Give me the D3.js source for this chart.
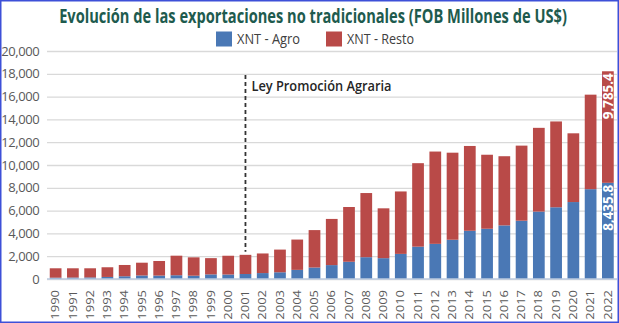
<!DOCTYPE html>
<html lang="es">
<head>
<meta charset="utf-8">
<title>Evolución de las exportaciones no tradicionales</title>
<script src="https://cdn.jsdelivr.net/npm/d3@7"></script>
<style>
  body { margin: 0; background: #fff; }
  svg { display: block; font-family: "Open Sans", "Noto Sans", sans-serif; }
</style>
</head>
<body>
<script>
// data (FOB, millones de US$)
const years = ["1990","1991","1992","1993","1994","1995","1996","1997","1998","1999",
  "2000","2001","2002","2003","2004","2005","2006","2007","2008","2009","2010",
  "2011","2012","2013","2014","2015","2016","2017","2018","2019","2020","2021","2022"];
const agro = [118, 130, 140, 180, 240, 310, 300, 330, 290, 405,
  394, 437, 520, 590, 801, 1008, 1220, 1512, 1913, 1828, 2203,
  2836, 3083, 3444, 4231, 4409, 4702, 5113, 5913, 6292, 6750, 7880, 8435.8];
const resto = [822, 810, 800, 850, 990, 1120, 1280, 1715, 1610, 1425,
  1646, 1683, 1720, 1990, 2659, 3282, 4050, 4803, 5627, 4372, 5477,
  7324, 8097, 7636, 7439, 6491, 6068, 6587, 7347, 7528, 6030, 8290, 9785.4];
const yTicks = [0, 2000, 4000, 6000, 8000, 10000, 12000, 14000, 16000, 18000, 20000];
const seriesNames = ["XNT - Agro", "XNT - Resto"];
const colors = ["#4a78b5", "#b94a48"];
const labelYear = "2022";
const leyYear = "2001";
const leyTop = 17900;
const leyText = "Ley Promoción Agraria";
const title = "Evolución de las exportaciones no tradicionales (FOB Millones de US$)";

var w = 619, h = 323;
var left = 47, right = 617;

var table = years.map((yr, i) => ({ year: yr, agro: agro[i], resto: resto[i] }));
var stacked = d3.stack().keys(["agro", "resto"])(table);

var svg = d3.select("body").append("svg")
    .attr("width", w)
    .attr("height", h);

var x = d3.scaleBand()
    .domain(years)
    .range([left, 616.5])
    .paddingInner(0.32)
    .paddingOuter(0.16);

var y = d3.scaleLinear()
    .domain([0, 20000])
    .range([279, 51]);

// y axis with gridlines
var yAxis = svg.append("g")
    .attr("transform", "translate(" + left + ",0)")
    .call(d3.axisLeft(y).tickValues(yTicks).tickSize(-(right - left)).tickPadding(8).tickFormat(d3.format(",")));
yAxis.select(".domain").remove();
yAxis.selectAll("line").attr("stroke", "#d9d9d9").attr("stroke-width", 1.3);
yAxis.selectAll("text")
    .attr("fill", "#595959")
    .attr("dx", "0.4px")
    .style("font-size", "13px")
    .style("letter-spacing", "-0.4px")
    .style("font-family", "'Open Sans', sans-serif");

// bars
svg.append("g").selectAll("g")
    .data(stacked)
    .join("g")
    .attr("fill", (d, i) => colors[i])
    .selectAll("rect")
    .data(d => d)
    .join("rect")
    .attr("x", d => x(d.data.year))
    .attr("width", x.bandwidth())
    .attr("y", d => y(d[1]))
    .attr("height", d => y(d[0]) - y(d[1]));

// baseline
svg.append("line")
    .attr("x1", left).attr("x2", right)
    .attr("y1", y(0)).attr("y2", y(0))
    .attr("stroke", "#bccbe0").attr("stroke-width", 1.5);

// x labels
svg.append("g").selectAll("text")
    .data(years)
    .join("text")
    .attr("transform", d => "translate(" + (x(d) + x.bandwidth() / 2) + "," + (y(0) + 11) + ") rotate(-90) scale(1,0.8)")
    .attr("text-anchor", "end")
    .attr("dy", "0.35em")
    .attr("fill", "#595959")
    .style("font-size", "13px")
    .text(d => d);

// value labels on the last bar
var last = years.indexOf(labelYear);
svg.append("g").selectAll("text")
    .data(stacked.map(s => s[last]))
    .join("text")
    .attr("transform", d => "translate(" + (x(labelYear) + x.bandwidth() / 2) + "," + (y(d[1]) + 2) + ") rotate(-90)")
    .attr("text-anchor", "end")
    .attr("dy", "0.36em")
    .attr("fill", "#fff")
    .attr("font-weight", "bold")
    .attr("textLength", 46)
    .attr("lengthAdjust", "spacingAndGlyphs")
    .style("font-size", "13.5px")
    .text(d => d3.format(",.1f")(d[1] - d[0]));

// Ley Promoción Agraria marker
var leyIdx = years.indexOf(leyYear);
var lx = x(leyYear) + x.bandwidth() / 2;
svg.append("line")
    .attr("x1", lx).attr("x2", lx)
    .attr("y1", y(leyTop))
    .attr("y2", y(agro[leyIdx] + resto[leyIdx]) - 3)
    .attr("stroke", "#333")
    .attr("stroke-width", 1.8)
    .attr("stroke-dasharray", "4,3");
svg.append("text")
    .attr("x", lx + 6)
    .attr("y", y(leyTop) + 16)
    .attr("fill", "#262626")
    .attr("font-weight", 600)
    .attr("textLength", 140)
    .attr("lengthAdjust", "spacingAndGlyphs")
    .style("font-size", "14px")
    .text(leyText);

// title, squeezed to the reference width with a scale transform
var titleText = svg.append("text")
    .attr("text-anchor", "middle")
    .attr("fill", "#1e5b4e")
    .attr("font-weight", "bold")
    .style("font-size", "19px")
    .text(title);
var natural = titleText.node().getComputedTextLength();
titleText.attr("transform", "translate(313,23) scale(" + (508 / natural) + ",1)");

// legend
var legendX = [216, 326];
var legendW = [63, 67];
var legend = svg.append("g").selectAll("g")
    .data(seriesNames)
    .join("g")
    .attr("transform", (d, i) => "translate(" + legendX[i] + ",31.5)");
legend.append("rect")
    .attr("width", 16).attr("height", 15)
    .attr("fill", (d, i) => colors[i]);
legend.append("text")
    .attr("x", 21)
    .attr("y", 12)
    .attr("fill", "#404040")
    .attr("textLength", (d, i) => legendW[i])
    .attr("lengthAdjust", "spacingAndGlyphs")
    .style("font-size", "15px")
    .text(d => d);

// frame
svg.append("rect")
    .attr("x", 0.75).attr("y", 0.75)
    .attr("width", w - 1.5).attr("height", h - 1.5)
    .attr("fill", "none")
    .attr("stroke", "#3d50d8")
    .attr("stroke-width", 1.5);
</script>
</body>
</html>
